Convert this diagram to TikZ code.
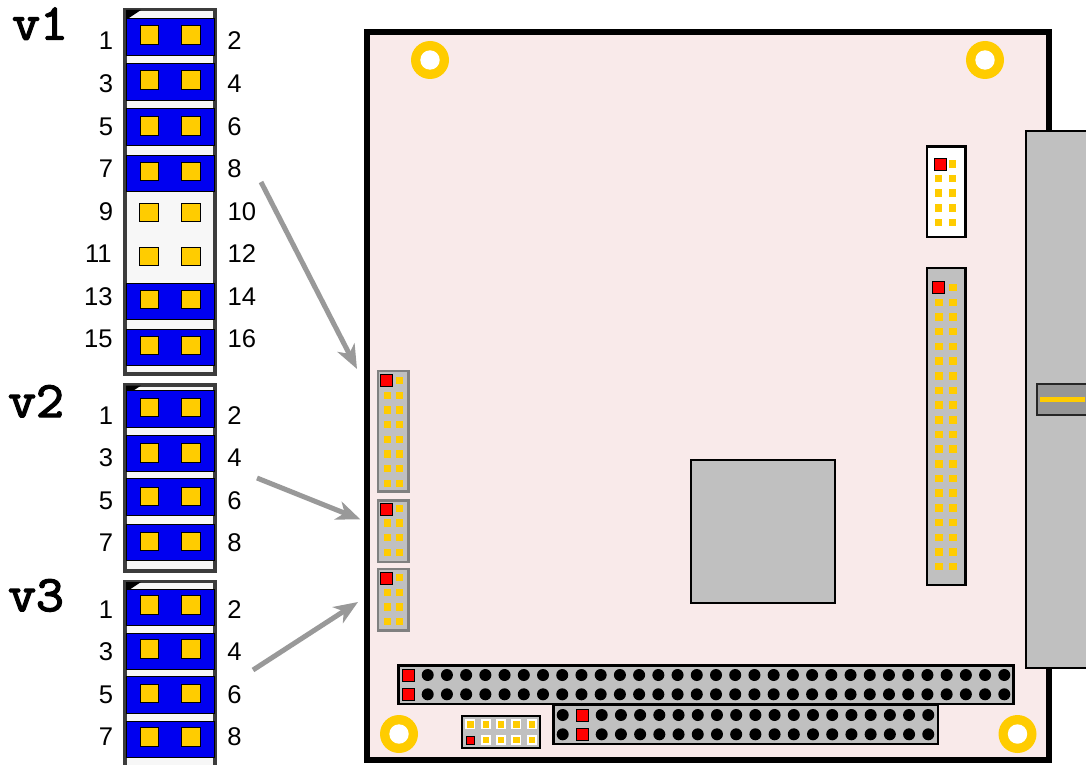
\documentclass[tikz,border=0pt]{standalone}
\usepackage{fontspec}
\setmainfont{Liberation Sans}
\newfontfamily\vfont[FakeBold=2.8,FakeStretch=1.06]{Latin Modern Mono}
\usetikzlibrary{arrows.meta}
\definecolor{board}{HTML}{F9EAEA}
\definecolor{gold}{HTML}{FFCC00}
\definecolor{pcb}{HTML}{C0C0C0}
\definecolor{jblue}{HTML}{0000F0}
\definecolor{jbody}{HTML}{F7F7F7}
\definecolor{jedge}{HTML}{3C3C3C}
\definecolor{arrowgray}{HTML}{999999}
\definecolor{hedge}{HTML}{808080}
\tikzset{
  x=1pt,y=-1pt,
  jackbody/.style={draw=jedge,line width=3.2pt,fill=jbody},
  bandbox/.style={draw=black,line width=1pt,fill=jblue},
  goldpin/.style={draw=black,line width=1pt,fill=gold,minimum size=18.5pt,inner sep=0pt,rectangle},
  numlabel/.style={font=\fontsize{25.6}{26}\selectfont,inner sep=0pt,yshift=-0.7pt,xshift=0.4pt},
  vlabel/.style={font=\fontsize{51}{51}\selectfont\vfont,inner sep=0pt,anchor=base west},
  smallpin/.style={fill=gold,minimum size=7.5pt,inner sep=0pt,rectangle},
  redpin/.style={draw=black,line width=1pt,fill=red,minimum size=12pt,inner sep=0pt,rectangle},
  dotpin/.style={fill=black,circle,minimum size=12pt,inner sep=0pt},
  pointer/.style={draw=arrowgray,line width=5pt,-{Stealth[length=24pt,width=19pt,inset=7pt]}},
  hdrgray/.style={draw=hedge,line width=2.4pt,fill=pcb},
  hdrblack/.style={draw=black,line width=2.8pt,fill=pcb},
}
\newcommand{\jband}[1]{\path[bandbox] (126,#1) rectangle ++(88,36.5);}
\newcommand{\jpins}[1]{\node[goldpin] at (149.5,#1) {};\node[goldpin] at (191,#1) {};}
\newcommand{\jtri}[1]{\fill[black] (126,#1) -- (141,#1) -- (126,#1+10) -- cycle;}
\begin{document}
\begin{tikzpicture}
\useasboundingbox (0,0) rectangle (1086,765);
% board
\path[draw=black,line width=5.2pt,fill=board] (367,32) rectangle (1049,760);
\foreach \hx/\hy in {430/60,985/60,399/734,1017.5/734}{
  \fill[gold] (\hx,\hy) circle (19);
  \fill[white] (\hx,\hy) circle (9.7);
}
% right connector
\path[draw=black,line width=2.8pt,fill=pcb] (1026,131) rectangle (1100,668);
\path[draw=black!85,line width=2.4pt,fill=black!41] (1037,384) rectangle (1100,415);
\fill[gold] (1039.5,396.7) rectangle (1085,401.7);
% chip
\path[draw=black,line width=2.8pt,fill=pcb] (691,460) rectangle (835,603);
% white header
\path[draw=black,line width=2.8pt,fill=white] (927,146.5) rectangle (965.5,237);
\foreach \r in {1,...,4}{
  \node[smallpin] at (938.5,164+14.6*\r) {};
}
\foreach \r in {0,...,4}{
  \node[smallpin] at (952.5,164+14.6*\r) {};
}
\node[redpin] at (940,164) {};
% long header
\path[hdrblack] (927,268) rectangle (965.5,585);
\foreach \r in {1,...,19}{
  \node[smallpin] at (939,287.7+14.68*\r) {};
}
\foreach \r in {0,...,19}{
  \node[smallpin] at (953,287.7+14.68*\r) {};
}
\node[redpin] at (938.3,287.7) {};
% left headers
\path[hdrgray] (378,371) rectangle (408.5,491.5);
\foreach \r in {1,...,7}{\node[smallpin] at (387.3,380.7+14.67*\r) {};}
\foreach \r in {0,...,7}{\node[smallpin] at (399.3,380.7+14.67*\r) {};}
\node[redpin] at (386.5,380.3) {};
\path[hdrgray] (378,500.5) rectangle (408.5,562);
\foreach \r in {1,...,3}{\node[smallpin] at (387.3,508.3+14.67*\r) {};}
\foreach \r in {0,...,3}{\node[smallpin] at (399.3,508.3+14.67*\r) {};}
\node[redpin] at (386.5,509) {};
\path[hdrgray] (378,569) rectangle (408.5,630.5);
\foreach \r in {1,...,3}{\node[smallpin] at (387.3,577.7+14.67*\r) {};}
\foreach \r in {0,...,3}{\node[smallpin] at (399.3,577.7+14.67*\r) {};}
\node[redpin] at (386.5,578.5) {};
% bottom header 1
\path[hdrblack] (398.8,665.5) rectangle (1013.5,704);
\foreach \c in {0,...,30}{
  \node[dotpin] at (427.7+19.22*\c,675) {};
  \node[dotpin] at (427.7+19.22*\c,694.3) {};
}
\node[redpin] at (408.3,675) {};
\node[redpin] at (408.3,694.3) {};
% bottom header 2
\path[hdrblack] (553.2,705) rectangle (938,744);
\node[dotpin] at (562.7,715) {};
\node[dotpin] at (562.7,734.3) {};
\foreach \c in {0,...,17}{
  \node[dotpin] at (601.7+19.21*\c,715) {};
  \node[dotpin] at (601.7+19.21*\c,734.3) {};
}
\node[redpin] at (582,715) {};
\node[redpin] at (582,734.3) {};
% small header
\path[draw=black,line width=2.4pt,fill=pcb] (462,716.2) rectangle (540,748);
\foreach \px/\py in {470.3/724.3,485.7/724.3,501/724.3,516.3/724.3,532/724.3,485.7/739.7,501/739.7,516.3/739.7,532/739.7}{
  \fill[white] (\px-5,\py-5) rectangle (\px+5,\py+5);
  \fill[gold] (\px-3.2,\py-3.2) rectangle (\px+3.2,\py+3.2);
}
\path[draw=black,line width=1pt,fill=red] (466.5,736) rectangle (474.5,744);
% jumper v1
\path[jackbody] (125,9.5) rectangle (215,374);
\jtri{10}
\jband{19}\jband{64}\jband{109}\jband{155}\jband{283}\jband{329}
\foreach \y in {35,80,126,171.5,299.5,345.5}{\jpins{\y}}
\node[goldpin] at (149,212.7) {};\node[goldpin] at (191,212.7) {};
\node[goldpin] at (149,256.7) {};\node[goldpin] at (191,256.7) {};
% jumper v2
\path[jackbody] (125,385) rectangle (215,571);
\jtri{385.5}
\jband{390.5}\jband{435}\jband{478.5}\jband{524}
\foreach \y in {407.5,453,496.5,541.5}{\jpins{\y}}
% jumper v3
\path[jackbody] (125,581.5) rectangle (215,768);
\jtri{582}
\jband{589}\jband{633}\jband{676.5}\jband{721}
\foreach \y in {605,649,693.5,737}{\jpins{\y}}
% number labels
\foreach \n/\y in {1/40,3/83,5/126,7/168}{\node[numlabel] (l\n) at (105.5,\y) {\n};}
\foreach \n/\y in {2/40,4/83,6/126,8/168}{\node[numlabel] (l\n) at (234,\y) {\n};}
\node[numlabel] (l9) at (105.5,211) {9};
\node[numlabel] (l10) at (241.5,211) {10};
\node[numlabel] (l11) at (98,253) {11};
\node[numlabel] (l12) at (241.5,253) {12};
\node[numlabel] (l13) at (98,296) {13};
\node[numlabel] (l14) at (241.5,296) {14};
\node[numlabel] (l15) at (98,338) {15};
\node[numlabel] (l16) at (241.5,338) {16};
\foreach \n/\y in {1/415,3/457,5/500,7/542}{\node[numlabel] (m\n) at (105.5,\y) {\n};}
\foreach \n/\y in {2/415,4/457,6/500,8/542}{\node[numlabel] (m\n) at (234,\y) {\n};}
\foreach \n/\y in {1/609,3/651,5/694,7/736}{\node[numlabel] (k\n) at (105.5,\y) {\n};}
\foreach \n/\y in {2/609,4/651,6/694,8/736}{\node[numlabel] (k\n) at (234,\y) {\n};}
% titles
\node[vlabel] (v1) at (12,39.5) {v1};
\node[vlabel] (v2) at (8,417) {v2};
\node[vlabel] (v3) at (8,611) {v3};
% arrows
\coordinate (a1s) at (261,182);
\coordinate (a1e) at (357,369);
\coordinate (a2s) at (257,478);
\coordinate (a2e) at (360.5,519.5);
\coordinate (a3s) at (253,670);
\coordinate (a3e) at (358,602);
\draw[pointer] (a1s) -- (a1e);
\draw[pointer] (a2s) -- (a2e);
\draw[pointer] (a3s) -- (a3e);
\end{tikzpicture}
\end{document}
